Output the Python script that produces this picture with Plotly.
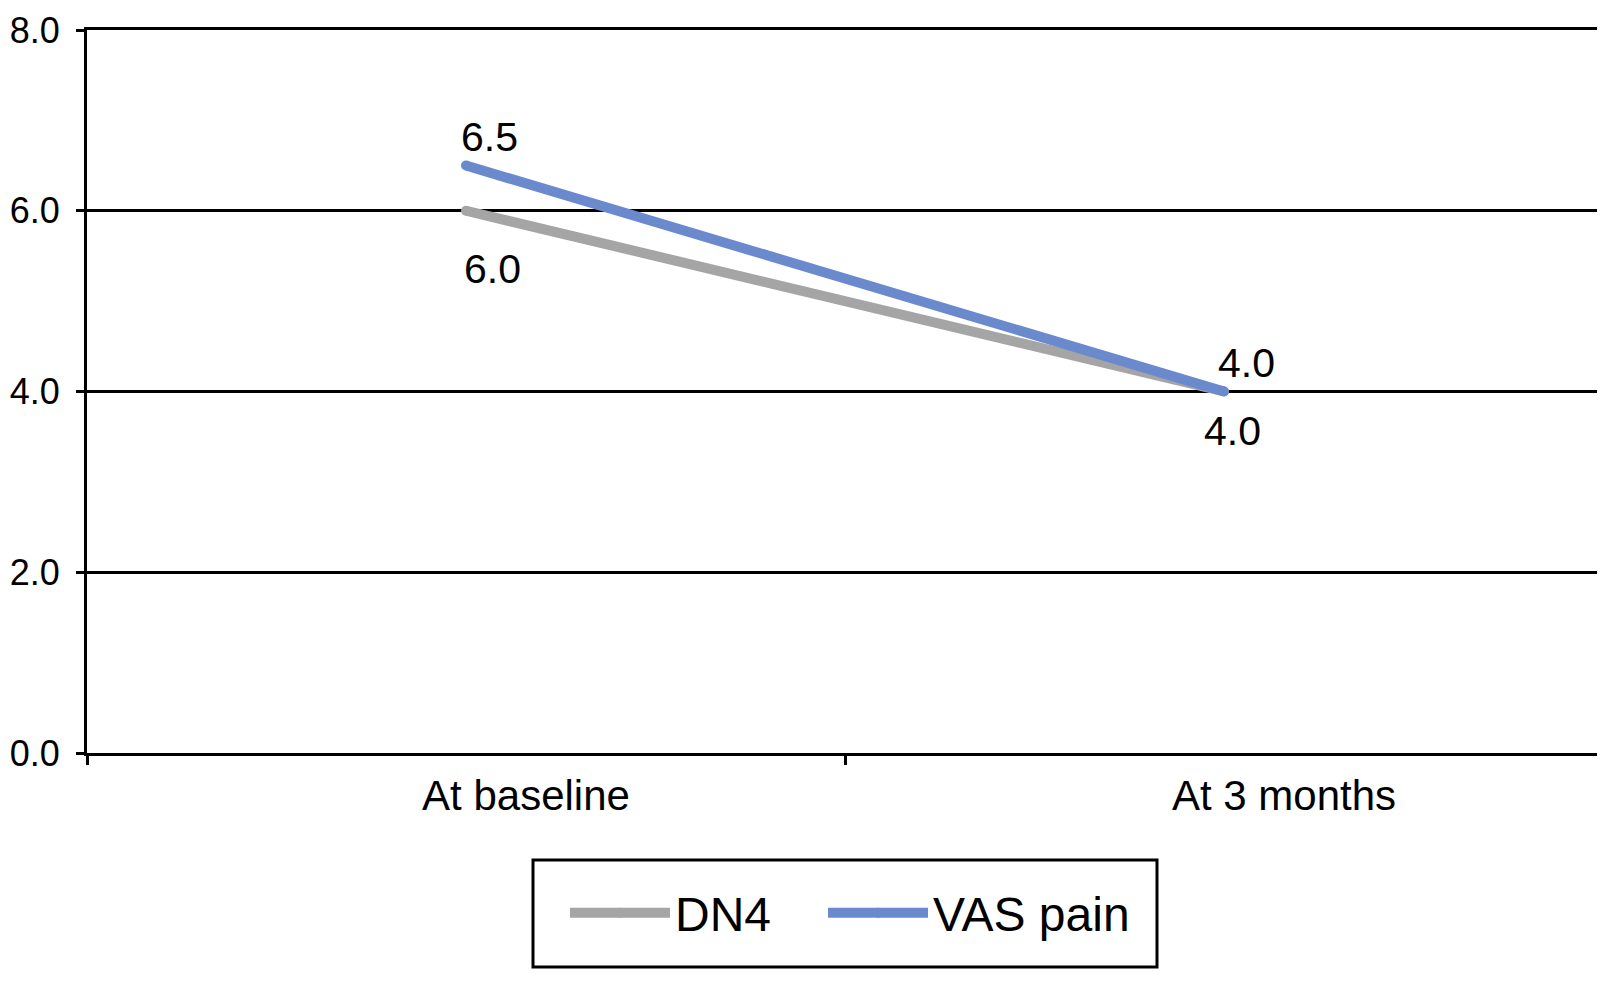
import plotly.graph_objects as go

# ---- data ----
categories = ["At baseline", "At 3 months"]
series_names = ["DN4", "VAS pain"]
dn4_values = [6.0, 4.0]
vas_values = [6.5, 4.0]
y_ticks = [0, 2, 4, 6, 8]
y_tick_labels = ["0.0", "2.0", "4.0", "6.0", "8.0"]

# ---- styles ----
FONT = "Liberation Sans, Arial, sans-serif"
colors = {"DN4": "#A5A5A5", "VAS pain": "#6A8ACD"}
legend_ids = {"DN4": "legend", "VAS pain": "legend2"}
LINE_W = 10

fig = go.Figure()
for name, vals in [("DN4", dn4_values), ("VAS pain", vas_values)]:
    fig.add_trace(go.Scatter(
        x=categories, y=vals, name=name, mode="lines+markers",
        line=dict(color=colors[name], width=LINE_W),
        marker=dict(color=colors[name], size=LINE_W, line=dict(width=0)),
        cliponaxis=False, legend=legend_ids[name],
    ))

# data labels (offsets in pixels)
label_offsets = {
    "DN4": [(26, -58), (8, -39)],
    "VAS pain": [(23, 29), (22, 29)],
}
for name, vals in [("DN4", dn4_values), ("VAS pain", vas_values)]:
    for i, (c, v) in enumerate(zip(categories, vals)):
        dx, dy = label_offsets[name][i]
        fig.add_annotation(
            x=c, y=v, text=f"{v:.1f}", showarrow=False,
            xshift=dx, yshift=dy,
            font=dict(family=FONT, size=41, color="black"),
        )

# legend frame (paper coords; plot area is 723 px tall)
PH = 723.0
fig.add_shape(type="rect", xref="paper", yref="paper",
              x0=0.2942, x1=0.7058, y0=-107 / PH, y1=-214 / PH,
              line=dict(color="black", width=3), fillcolor="rgba(0,0,0,0)")

legend_style = dict(
    orientation="h", xanchor="left", y=-160 / PH, yanchor="middle",
    borderwidth=0, bgcolor="rgba(0,0,0,0)",
    font=dict(family=FONT, size=48, color="black"),
    itemwidth=100,
)

fig.update_layout(
    width=1605, height=987,
    margin=dict(l=79, r=10, t=22, b=242, autoexpand=False),
    paper_bgcolor="white", plot_bgcolor="white",
    font=dict(family=FONT, color="black"),
    showlegend=True,
    legend=dict(x=0.3153, **legend_style),
    legend2=dict(x=0.4855, **legend_style),
)
fig.update_xaxes(
    type="category", range=[-0.5, 1.5], automargin=False,
    showgrid=False, showline=True, linecolor="black", linewidth=3, mirror=True,
    ticks="outside", tickson="boundaries", ticklen=9, tickwidth=3, tickcolor="black",
    tickfont=dict(family=FONT, size=42, color="black"),
    ticklabelshift=60, ticklabelstandoff=4,
)
fig.update_yaxes(
    range=[0, 8], tickvals=y_ticks, ticktext=y_tick_labels, automargin=False,
    showgrid=True, gridcolor="black", gridwidth=3,
    zeroline=False,
    showline=True, linecolor="black", linewidth=3,
    ticks="outside", ticklen=8, tickwidth=3, tickcolor="black",
    tickfont=dict(family=FONT, size=36, color="black"),
    ticklabelstandoff=9, ticklabeloverflow="allow",
)

fig.write_html("out.html")
